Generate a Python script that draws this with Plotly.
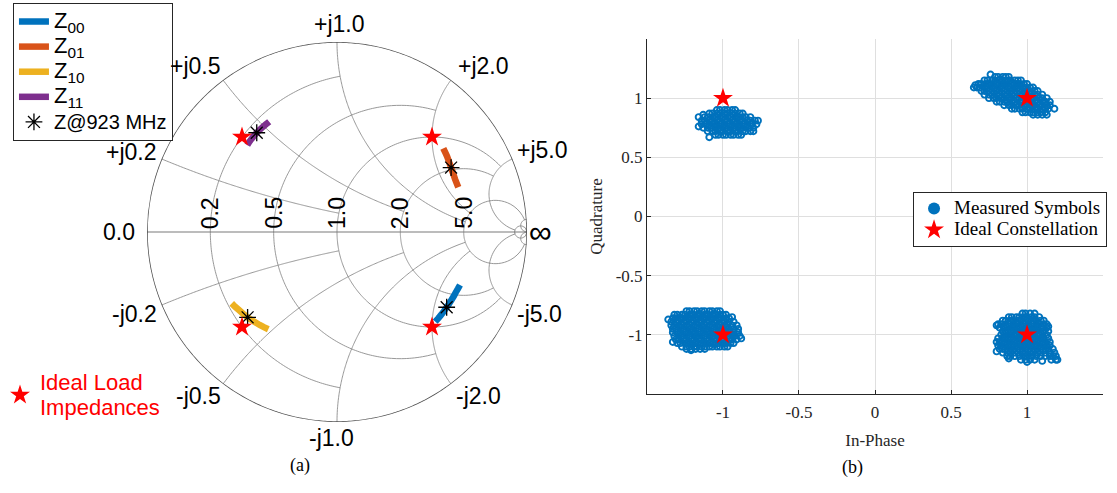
import numpy as np
import plotly.graph_objects as go

# ------------------------------------------------------------------
# (a) Smith chart: normalized load impedances swept over frequency
# ------------------------------------------------------------------
z00_re = [1.12, 1.20, 1.29, 1.39, 1.52, 1.64, 1.78, 1.93, 2.10, 2.29, 2.49]
z00_im = [-2.07, -2.14, -2.21, -2.28, -2.36, -2.43, -2.50, -2.57, -2.63, -2.70, -2.76]

z01_re = [1.27, 1.38, 1.50, 1.63, 1.77, 1.91, 2.07, 2.24, 2.43, 2.64, 2.88]
z01_im = [2.27, 2.32, 2.37, 2.41, 2.44, 2.47, 2.49, 2.51, 2.52, 2.53, 2.53]

z10_re = [0.216, 0.222, 0.229, 0.236, 0.244, 0.252, 0.260, 0.268, 0.277, 0.287]
z10_im = [-0.294, -0.313, -0.333, -0.356, -0.380, -0.400, -0.420, -0.441, -0.462, -0.484]

z11_re = [0.239, 0.238, 0.238, 0.238, 0.239, 0.240, 0.242, 0.244, 0.246]
z11_im = [0.385, 0.402, 0.420, 0.437, 0.455, 0.474, 0.494, 0.513, 0.533]

# impedance of each state at 923 MHz
z923_re = [1.52, 1.91, 0.244, 0.239]
z923_im = [-2.36, 2.47, -0.380, 0.455]

# ideal load impedances
ideal_z_re = [1.0, 1.0, 0.2, 0.2]
ideal_z_im = [-2.0, 2.0, -0.4, 0.4]

# Smith grid values and the extent each grid line is drawn to
grid_values = [0.2, 0.5, 1.0, 2.0, 5.0, 30.0]
grid_limits = [1.0, 2.0, 5.0, 5.0, 30.0, 1.0e4]

real_tick_labels = ["0.2", "0.5", "1.0", "2.0", "5.0"]
imag_tick_values = [0.2, 0.5, 1.0, 2.0, 5.0, -0.2, -0.5, -1.0, -2.0, -5.0]
imag_tick_labels = ["+j0.2", "+j0.5", "+j1.0", "+j2.0", "+j5.0",
                    "-j0.2", "-j0.5", "-j1.0", "-j2.0", "-j5.0"]

# ------------------------------------------------------------------
# (b) QPSK constellation: measured symbols, one list of rows per symbol
#     each row: (quadrature, [in-phase values])
# ------------------------------------------------------------------
nw_rows = [
    (0.90, [-1.04, -1.02, -0.99, -0.97, -0.94, -0.92]),
    (0.87, [-1.09, -1.07, -1.04, -1.02, -0.99, -0.97, -0.94, -0.92, -0.89, -0.87]),
    (0.84, [-1.12, -1.10, -1.07, -1.05, -1.02, -1.00, -0.97, -0.95, -0.92, -0.90, -0.87, -0.85, -0.82]),
    (0.81, [-1.14, -1.12, -1.09, -1.07, -1.04, -1.02, -0.99, -0.97, -0.94, -0.92, -0.89, -0.87, -0.84, -0.82, -0.79]),
    (0.78, [-1.14, -1.11, -1.09, -1.06, -1.04, -1.01, -0.99, -0.96, -0.94, -0.91, -0.89, -0.86, -0.84, -0.81, -0.78]),
    (0.75, [-1.13, -1.10, -1.08, -1.05, -1.03, -1.00, -0.98, -0.95, -0.93, -0.90, -0.88, -0.85, -0.83, -0.80]),
    (0.72, [-1.10, -1.07, -1.05, -1.02, -1.00, -0.97, -0.95, -0.92, -0.90, -0.87, -0.85, -0.82]),
    (0.69, [-1.05, -1.03, -1.00, -0.98, -0.95, -0.93, -0.90, -0.88]),
]
nw_extra = [(-1.16, 0.84), (-1.16, 0.76), (-1.09, 0.67), (-0.80, 0.72), (-0.77, 0.81), (-1.13, 0.86)]

ne_rows = [
    (1.18, [0.79, 0.81, 0.84, 0.86, 0.88]),
    (1.15, [0.72, 0.74, 0.77, 0.79, 0.82, 0.84, 0.87, 0.89, 0.92, 0.94, 0.96]),
    (1.12, [0.68, 0.70, 0.73, 0.75, 0.78, 0.80, 0.83, 0.85, 0.88, 0.90, 0.93, 0.95, 0.98, 1.00]),
    (1.09, [0.67, 0.69, 0.72, 0.74, 0.77, 0.79, 0.82, 0.84, 0.87, 0.89, 0.92, 0.94, 0.97, 0.99, 1.02, 1.04]),
    (1.06, [0.70, 0.72, 0.75, 0.77, 0.80, 0.82, 0.85, 0.87, 0.90, 0.92, 0.95, 0.97, 1.00, 1.02, 1.05, 1.07]),
    (1.03, [0.72, 0.75, 0.77, 0.80, 0.82, 0.85, 0.87, 0.90, 0.92, 0.95, 0.97, 1.00, 1.02, 1.05, 1.07, 1.10]),
    (1.00, [0.75, 0.78, 0.80, 0.83, 0.85, 0.88, 0.90, 0.93, 0.95, 0.98, 1.00, 1.03, 1.05, 1.08, 1.10, 1.13]),
    (0.97, [0.80, 0.82, 0.85, 0.87, 0.90, 0.92, 0.95, 0.97, 1.00, 1.02, 1.05, 1.07, 1.10, 1.12, 1.15]),
    (0.94, [0.85, 0.88, 0.90, 0.93, 0.95, 0.98, 1.00, 1.03, 1.05, 1.08, 1.10, 1.13, 1.15]),
    (0.91, [0.90, 0.92, 0.95, 0.97, 1.00, 1.02, 1.05, 1.07, 1.10, 1.12, 1.14]),
    (0.88, [0.97, 0.99, 1.02, 1.04, 1.07, 1.09, 1.12]),
    (0.86, [1.04, 1.07, 1.10]),
]
ne_extra = [(0.66, 1.11), (0.76, 1.20), (1.18, 0.91), (0.65, 1.09), (1.13, 0.86)]

sw_rows = [
    (-0.80, [-1.24, -1.22, -1.19, -1.17, -1.14, -1.12, -1.09, -1.07, -1.04, -1.02]),
    (-0.83, [-1.32, -1.30, -1.27, -1.25, -1.22, -1.20, -1.17, -1.15, -1.12, -1.10, -1.07, -1.05, -1.02, -1.00, -0.98]),
    (-0.86, [-1.33, -1.31, -1.28, -1.26, -1.23, -1.21, -1.18, -1.16, -1.13, -1.11, -1.08, -1.06, -1.03, -1.01, -0.98, -0.96]),
    (-0.89, [-1.34, -1.31, -1.29, -1.26, -1.24, -1.21, -1.19, -1.16, -1.14, -1.11, -1.09, -1.06, -1.04, -1.01, -0.99, -0.96, -0.93]),
    (-0.92, [-1.34, -1.32, -1.29, -1.27, -1.24, -1.22, -1.19, -1.17, -1.14, -1.12, -1.09, -1.07, -1.04, -1.02, -0.99, -0.97, -0.94, -0.91]),
    (-0.95, [-1.33, -1.31, -1.28, -1.26, -1.23, -1.21, -1.18, -1.16, -1.13, -1.11, -1.08, -1.06, -1.03, -1.01, -0.98, -0.96, -0.93, -0.90]),
    (-0.98, [-1.33, -1.30, -1.28, -1.25, -1.23, -1.20, -1.18, -1.15, -1.13, -1.10, -1.08, -1.05, -1.03, -1.00, -0.98, -0.95, -0.93, -0.90]),
    (-1.01, [-1.32, -1.29, -1.27, -1.24, -1.22, -1.19, -1.17, -1.14, -1.12, -1.09, -1.07, -1.04, -1.02, -0.99, -0.97, -0.94, -0.92, -0.89]),
    (-1.04, [-1.31, -1.29, -1.26, -1.24, -1.21, -1.19, -1.16, -1.14, -1.11, -1.09, -1.06, -1.04, -1.01, -0.99, -0.96, -0.94, -0.91]),
    (-1.07, [-1.30, -1.28, -1.25, -1.23, -1.20, -1.18, -1.15, -1.13, -1.10, -1.08, -1.05, -1.03, -1.00, -0.98, -0.95, -0.93]),
    (-1.10, [-1.27, -1.24, -1.22, -1.19, -1.17, -1.14, -1.12, -1.09, -1.07, -1.04, -1.02, -0.99, -0.97]),
    (-1.12, [-1.24, -1.21, -1.18, -1.15, -1.12]),
]
sw_extra = [(-1.36, -0.87), (-0.88, -1.03), (-1.21, -1.13), (-0.94, -0.85), (-1.33, -1.06)]

se_rows = [
    (-0.82, [0.97, 0.99, 1.02, 1.05]),
    (-0.85, [0.88, 0.90, 0.93, 0.95, 0.98, 1.00, 1.03, 1.05, 1.08]),
    (-0.88, [0.84, 0.86, 0.89, 0.91, 0.94, 0.96, 0.99, 1.01, 1.04, 1.06, 1.09, 1.11]),
    (-0.91, [0.81, 0.83, 0.86, 0.88, 0.91, 0.93, 0.96, 0.98, 1.01, 1.03, 1.06, 1.08, 1.11, 1.13]),
    (-0.94, [0.82, 0.85, 0.87, 0.90, 0.92, 0.95, 0.97, 1.00, 1.02, 1.05, 1.07, 1.10, 1.13]),
    (-0.97, [0.84, 0.86, 0.89, 0.91, 0.94, 0.96, 0.99, 1.01, 1.04, 1.06, 1.09, 1.11, 1.14]),
    (-1.00, [0.83, 0.85, 0.88, 0.90, 0.93, 0.95, 0.98, 1.00, 1.03, 1.05, 1.08, 1.10, 1.13]),
    (-1.03, [0.81, 0.84, 0.86, 0.89, 0.91, 0.94, 0.96, 0.99, 1.01, 1.04, 1.06, 1.09, 1.11, 1.14]),
    (-1.06, [0.80, 0.82, 0.85, 0.87, 0.90, 0.92, 0.95, 0.97, 1.00, 1.02, 1.05, 1.07, 1.10, 1.12, 1.15]),
    (-1.09, [0.81, 0.83, 0.86, 0.88, 0.91, 0.93, 0.96, 0.98, 1.01, 1.03, 1.06, 1.08, 1.11, 1.13, 1.15]),
    (-1.12, [0.82, 0.84, 0.87, 0.89, 0.92, 0.94, 0.97, 0.99, 1.02, 1.04, 1.07, 1.09, 1.12, 1.14, 1.17]),
    (-1.15, [0.84, 0.87, 0.89, 0.92, 0.94, 0.97, 0.99, 1.02, 1.04, 1.07, 1.09, 1.12, 1.15, 1.18]),
    (-1.18, [0.87, 0.89, 0.92, 0.95, 0.98, 1.00, 1.03, 1.06, 1.09, 1.12, 1.15, 1.17, 1.19]),
    (-1.21, [0.96, 0.99, 1.02, 1.05, 1.16, 1.19]),
]
se_extra = [(0.80, -0.92), (0.80, -1.14), (1.20, -1.21), (1.00, -1.23), (1.10, -1.22), (1.14, -0.93), (0.88, -1.20)]

ideal_i = [-1.0, 1.0, -1.0, 1.0]
ideal_q = [1.0, 1.0, -1.0, -1.0]

iq_ticks = [-1.0, -0.5, 0.0, 0.5, 1.0]
iq_tick_labels = ["-1", "-0.5", "0", "0.5", "1"]

# ------------------------------------------------------------------
# styling
# ------------------------------------------------------------------
BLUE, ORANGE, YELLOW, PURPLE = "#0072BD", "#D95319", "#EDB120", "#7E2F8E"
GRID = "#8c8c8c"
SANS = "Liberation Sans"
SERIF = "Liberation Serif"
LABEL_SIZE = 23

# Smith chart placement (paper fractions)
SX0, SX1 = 0.1316, 0.4718
SY0, SY1 = 0.1440, 0.9148


def gamma_to_paper(g):
    cx, cy = (SX0 + SX1) / 2, (SY0 + SY1) / 2
    return cx + g.real * (SX1 - SX0) / 2, cy + g.imag * (SY1 - SY0) / 2


def gamma_of(z):
    return (z - 1) / (z + 1)


def grid_lines():
    re, im = [], []
    for v, lim in zip(grid_values, grid_limits):
        # constant-resistance circle, |x| <= lim
        t = np.tan(np.linspace(-np.arctan(lim), np.arctan(lim), 241))
        re += [v] * len(t) + [None]
        im += list(t) + [None]
        # constant-reactance arcs, r <= lim
        r = np.tan(np.linspace(0.0, np.arctan(lim), 161))
        for s in (1, -1):
            re += list(r) + [None]
            im += [s * v] * len(r) + [None]
    return re, im


fig = go.Figure()

g_re, g_im = grid_lines()
fig.add_trace(go.Scattersmith(real=g_re, imag=g_im, mode="lines",
                              line=dict(color=GRID, width=0.9),
                              hoverinfo="skip", showlegend=False))

# real axis and outer boundary
big = 1.0e5
r_axis = np.tan(np.linspace(0.0, np.arctan(big), 301))
x_outer = np.tan(np.linspace(-np.arctan(big), np.arctan(big), 601))
fig.add_trace(go.Scattersmith(real=list(r_axis), imag=[0.0] * len(r_axis), mode="lines",
                              line=dict(color="#7a7a7a", width=1.1),
                              hoverinfo="skip", showlegend=False))
fig.add_trace(go.Scattersmith(real=[0.0] * len(x_outer), imag=list(x_outer), mode="lines",
                              line=dict(color="#4d4d4d", width=1.6),
                              hoverinfo="skip", showlegend=False))

for re, im, col, sub in [(z00_re, z00_im, BLUE, "00"),
                         (z01_re, z01_im, ORANGE, "01"),
                         (z10_re, z10_im, YELLOW, "10"),
                         (z11_re, z11_im, PURPLE, "11")]:
    fig.add_trace(go.Scattersmith(real=re, imag=im, mode="lines",
                                  line=dict(color=col, width=6.5),
                                  name=f'<span style="font-size:22px">Z<sub>{sub}</sub></span>',
                                  legend="legend"))

fig.add_trace(go.Scattersmith(real=z923_re, imag=z923_im, mode="markers",
                              marker=dict(symbol="asterisk-open", size=14, color="black",
                                          line=dict(color="black", width=1.3)),
                              name='<span style="font-size:20px">Z@923 MHz</span>',
                              legend="legend"))

fig.add_trace(go.Scattersmith(real=ideal_z_re, imag=ideal_z_im, mode="markers",
                              marker=dict(symbol="star", size=15, color="#ff0000",
                                          line=dict(width=0)),
                              name='<span style="font-size:22px">Ideal Load<br>Impedances</span>',
                              legend="legend3"))

# ------------------------------------------------------------------
# constellation
# ------------------------------------------------------------------
meas_i, meas_q = [], []
for rows, extra in [(nw_rows, nw_extra), (ne_rows, ne_extra),
                    (sw_rows, sw_extra), (se_rows, se_extra)]:
    for q, i_vals in rows:
        meas_i += i_vals
        meas_q += [q] * len(i_vals)
    for i_v, q_v in extra:
        meas_i.append(i_v)
        meas_q.append(q_v)

fig.add_trace(go.Scatter(x=meas_i, y=meas_q, mode="markers",
                         marker=dict(symbol="circle-open", size=6, color=BLUE,
                                     line=dict(width=1.9, color=BLUE)),
                         showlegend=False, hoverinfo="skip"))
fig.add_trace(go.Scatter(x=[None], y=[None], mode="markers",
                         marker=dict(symbol="circle", size=12, color=BLUE),
                         name='<span style="font-size:19px">Measured Symbols</span>',
                         legend="legend2"))
fig.add_trace(go.Scatter(x=ideal_i, y=ideal_q, mode="markers",
                         marker=dict(symbol="star", size=15, color="#ff0000",
                                     line=dict(width=0)),
                         name='<span style="font-size:19px">Ideal Constellation</span>',
                         legend="legend2"))

# ------------------------------------------------------------------
# Smith chart labels
# ------------------------------------------------------------------
annotations = []
imag_label_style = {
    0.2: ("right", "bottom", -3, -8), 0.5: ("right", "bottom", 0, -1),
    1.0: ("center", "bottom", 3, 3), 2.0: ("left", "bottom", 5, -1),
    5.0: ("left", "bottom", 3, -6), -0.2: ("right", "top", -3, 6),
    -0.5: ("right", "top", 0, 3), -1.0: ("center", "top", -5, -1),
    -2.0: ("left", "top", 3, 3), -5.0: ("left", "top", 3, 6),
}
for v, txt in zip(imag_tick_values, imag_tick_labels):
    px, py = gamma_to_paper(gamma_of(1j * v))
    xa, ya, dx, dy = imag_label_style[v]
    annotations.append(dict(x=px, y=py, xref="paper", yref="paper", text=txt,
                            showarrow=False, xanchor=xa, yanchor=ya,
                            xshift=dx, yshift=dy,
                            font=dict(family=SANS, size=LABEL_SIZE, color="black")))

px, py = gamma_to_paper(complex(-1, 0))
annotations.append(dict(x=px, y=py, xref="paper", yref="paper", text="0.0",
                        showarrow=False, xanchor="right", yanchor="middle", xshift=-10,
                        font=dict(family=SANS, size=LABEL_SIZE, color="black")))
px, py = gamma_to_paper(complex(1, 0))
annotations.append(dict(x=px, y=py, xref="paper", yref="paper", text="∞",
                        showarrow=False, xanchor="left", yanchor="middle", xshift=0,
                        font=dict(family=SANS, size=32, color="black")))

for v, txt in zip(grid_values[:5], real_tick_labels):
    px, py = gamma_to_paper(gamma_of(complex(v, 0)))
    annotations.append(dict(x=px, y=py, xref="paper", yref="paper", text=txt,
                            showarrow=False, xanchor="center", yanchor="bottom",
                            textangle=-90, yshift=1,
                            font=dict(family=SANS, size=LABEL_SIZE, color="black")))

# captions
annotations.append(dict(x=0.2578, y=0.03, xref="paper", yref="paper", text="(a)",
                        showarrow=False, font=dict(family=SERIF, size=18, color="black")))
annotations.append(dict(x=0.7746, y=0.026, xref="paper", yref="paper", text="(b)",
                        showarrow=False, font=dict(family=SERIF, size=18, color="black")))

axis_common = dict(range=[-1.5, 1.5], tickvals=iq_ticks, ticktext=iq_tick_labels,
                   showline=True, linecolor="#262626", linewidth=1,
                   ticks="inside", ticklen=4, tickcolor="#262626",
                   showgrid=True, gridcolor="#dfdfdf", gridwidth=1, zeroline=False,
                   tickfont=dict(family=SERIF, size=17, color="#262626"),
                   fixedrange=True)

fig.update_layout(
    width=1117, height=493, autosize=False,
    margin=dict(l=0, r=0, t=0, b=0),
    paper_bgcolor="white", plot_bgcolor="white",
    font=dict(family=SANS, color="black"),
    smith=dict(
        domain=dict(x=[SX0, SX1], y=[SY0, SY1]),
        bgcolor="rgba(0,0,0,0)",
        realaxis=dict(showgrid=False, showline=False, showticklabels=False, ticks=""),
        imaginaryaxis=dict(showgrid=False, showline=False, showticklabels=False, ticks=""),
    ),
    xaxis=dict(domain=[0.5792, 0.9875],
               title=dict(text="In-Phase", font=dict(family=SERIF, size=17, color="#262626"),
                          standoff=12),
               ticklabelstandoff=3,
               **axis_common),
    yaxis=dict(domain=[0.2008, 0.9209],
               title=dict(text="Quadrature", font=dict(family=SERIF, size=17, color="#262626"),
                          standoff=8),
               **axis_common),
    legend=dict(x=0.0116, y=0.994, xanchor="left", yanchor="top",
                bgcolor="white", bordercolor="#262626", borderwidth=1,
                font=dict(family=SANS, size=17, color="black"),
                itemwidth=30, tracegroupgap=0),
    legend2=dict(x=0.8174, y=0.6106, xanchor="left", yanchor="top",
                 bgcolor="white", bordercolor="#262626", borderwidth=1,
                 font=dict(family=SERIF, size=14, color="black")),
    legend3=dict(x=0.0, y=0.262, xanchor="left", yanchor="top",
                 bgcolor="rgba(0,0,0,0)", borderwidth=0,
                 font=dict(family=SANS, size=19, color="#ff0000"),
                 itemwidth=30),
    annotations=annotations,
    showlegend=True,
)

fig.write_html("out.html")
